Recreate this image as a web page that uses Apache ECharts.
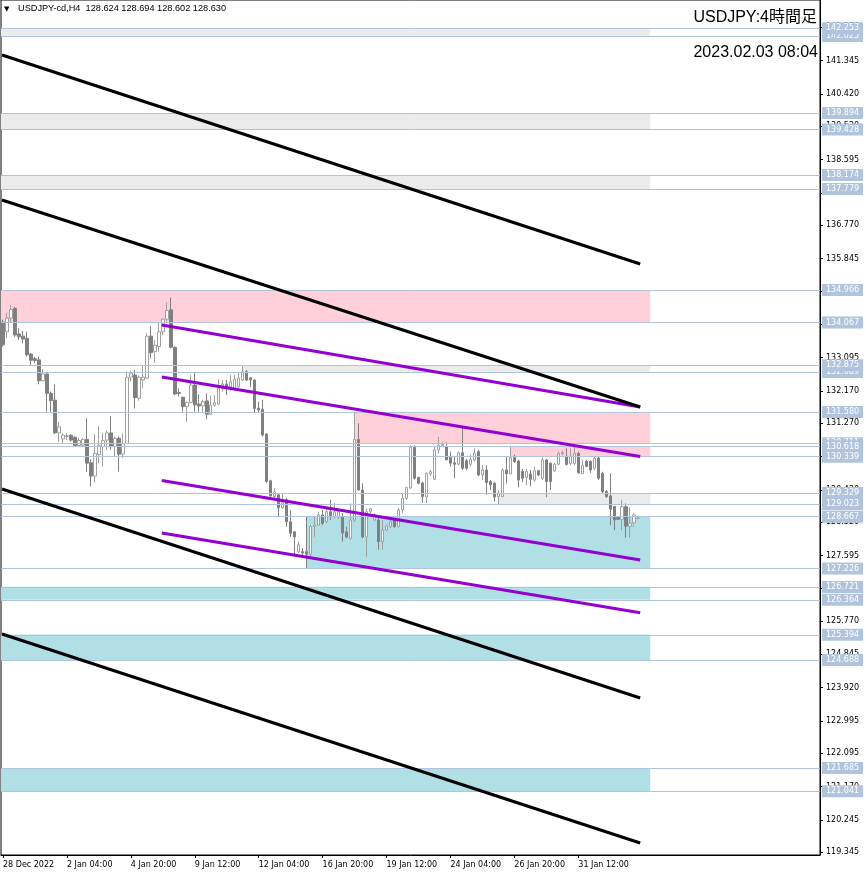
<!DOCTYPE html>
<html><head><meta charset="utf-8">
<script src="https://cdn.jsdelivr.net/npm/echarts@6/dist/echarts.min.js"></script>
<style>html,body{margin:0;padding:0;background:#fff}#c{width:866px;height:876px}</style>
</head><body><div id="c"></div>
<script>
const symbolTitle = 'USDJPY-cd,H4  128.624 128.694 128.602 128.630';
const chartTitle = 'USDJPY:4時間足';
const chartTime = '2023.02.03 08:04';

const slotCount = 205;
const xTickStep = 16;
const xTickLabels = ['28 Dec 2022','2 Jan 04:00','4 Jan 20:00','9 Jan 12:00','12 Jan 04:00','16 Jan 20:00','19 Jan 12:00','24 Jan 04:00','26 Jan 20:00','31 Jan 12:00'];
const categories = Array.from({length: slotCount}, (_, i) => String(i));

const yMin = 119.269, yMax = 143.032;
const yTickValues = [142.270,141.345,140.420,139.520,138.595,137.670,136.770,135.845,134.945,134.020,133.095,132.170,131.270,130.345,129.420,128.520,127.595,126.670,125.770,124.845,123.920,122.995,122.095,121.170,120.245,119.345];

// horizontal levels (drawn in this order; later ones on top)
const levels = [142.025,142.253,139.894,139.428,138.174,137.779,134.966,134.067,132.689,132.875,131.580,130.711,130.618,130.339,129.329,129.023,128.667,127.226,126.721,126.364,125.394,124.688,121.685,121.041];

// zones: top, bottom, start bar (null = left edge), kind
const zoneTop    = [142.253,139.894,138.174,134.966,132.875,131.580,130.618,129.329,128.667,126.721,125.394,121.685];
const zoneBottom = [142.025,139.428,137.779,134.067,132.689,130.711,130.339,129.023,127.226,126.364,124.688,121.041];
const zoneStart  = [null,null,null,null,60,88,127,124,76,null,null,null];
const zoneKind   = ['gray','gray','gray','pink','gray','pink','pink','gray','blue','blue','blue','blue'];
const zoneEnd = 162;

// candles: [open, close, low, high]
const candles = [
[134.08,133.45,133.40,134.15],[133.81,134.19,133.63,134.33],[134.19,134.43,134.09,134.55],[134.46,133.72,133.67,134.50],[133.75,133.67,133.58,133.91],
[133.69,133.61,133.49,133.84],[133.63,133.17,133.12,133.81],[133.19,133.02,132.89,133.22],[133.06,133.01,132.95,133.12],[133.03,132.45,132.35,133.12],
[132.45,132.64,132.43,132.77],[132.64,132.10,131.59,132.66],[132.10,131.90,131.59,132.15],[131.91,131.00,130.98,132.35],[131.00,131.17,130.75,131.30],
[130.83,130.94,130.71,130.99],[130.90,130.92,130.80,130.99],[130.93,130.80,130.76,130.97],[130.88,130.65,130.64,130.90],[130.65,130.79,130.62,130.85],
[130.66,130.82,130.61,130.86],[130.82,130.16,129.91,131.41],[130.17,129.80,129.51,130.26],[129.80,130.43,129.62,130.97],[130.40,130.66,130.16,131.19],
[130.62,130.79,130.06,131.00],[130.80,131.00,130.53,131.06],[131.00,130.62,130.53,131.47],[130.62,130.85,130.34,130.90],[130.85,130.41,129.92,130.90],
[130.41,130.71,130.30,130.99],[130.71,132.55,130.70,132.70],[132.55,132.66,132.43,132.73],[132.61,131.98,131.68,132.75],[131.96,132.55,131.90,132.60],
[132.47,132.55,132.24,132.89],[132.52,133.69,132.50,133.77],[133.69,133.23,133.07,133.97],[133.26,133.44,132.95,133.58],[133.40,133.81,133.26,134.07],
[133.81,134.16,133.72,134.19],[134.16,134.40,134.09,134.62],[134.42,133.38,133.35,134.77],[133.38,132.08,132.05,133.40],[132.12,132.10,132.01,132.24],
[131.99,131.73,131.59,132.01],[131.73,131.85,131.31,131.87],[131.85,132.33,131.83,132.61],[132.33,131.78,131.59,132.67],[131.80,131.75,131.59,132.08],
[131.75,131.87,131.56,131.92],[131.89,131.52,131.38,132.10],[131.52,131.77,131.50,132.03],[131.77,131.84,131.73,132.05],[131.80,132.24,131.78,132.49],
[132.22,132.36,132.14,132.47],[132.36,132.25,132.05,132.47],[132.28,132.42,132.17,132.61],[132.24,132.49,132.17,132.61],[132.28,132.52,132.25,132.67],
[132.47,132.70,132.45,132.875],[132.70,132.47,132.45,132.75],[132.53,132.47,132.28,132.55],[132.47,131.68,131.55,132.49],[131.69,131.64,131.55,131.87],
[131.66,130.94,130.90,131.92],[130.97,129.65,129.61,130.99],[129.67,129.25,129.23,129.70],[129.23,129.36,129.14,129.47],[129.28,128.92,128.67,129.33],
[128.92,129.06,128.90,129.33],[129.14,128.53,128.39,129.19],[128.53,128.21,128.11,128.86],[128.25,128.11,127.56,128.27],[127.70,127.89,127.66,127.98],
[127.70,127.66,127.56,127.80],[127.70,127.63,127.226,128.667],[127.63,128.40,127.56,128.44],[128.40,128.44,128.11,128.67],[128.44,128.72,128.42,128.81],
[128.72,128.49,128.44,128.86],[128.53,128.81,128.49,128.95],[128.81,128.67,128.58,129.14],[128.67,128.81,128.63,129.05],[128.67,128.81,128.60,128.90],
[128.67,128.22,127.98,128.77],[128.25,128.11,128.07,128.39],[128.07,128.58,128.03,129.04],[128.58,130.82,128.53,131.58],[130.82,129.41,129.41,131.27],
[129.41,128.11,128.07,129.60],[128.11,128.81,127.56,128.90],[128.81,128.89,128.77,128.91],[128.58,128.72,128.55,128.76],[128.58,127.98,127.75,128.64],
[127.98,128.30,127.75,128.58],[128.30,128.41,128.27,128.45],[128.40,128.53,128.36,128.67],[128.58,128.40,128.36,128.62],[128.40,128.86,128.38,128.92],
[128.86,129.18,128.77,129.32],[129.18,129.48,129.14,129.50],[129.47,130.60,129.45,130.66],[130.60,129.74,129.70,130.66],[129.76,129.60,129.57,129.78],
[129.61,129.23,129.06,129.64],[129.22,129.88,129.05,129.90],[129.86,129.92,129.80,129.97],[129.71,130.53,129.69,130.62],[130.53,130.66,130.43,130.89],
[130.64,130.68,130.62,130.74],[130.62,130.25,130.25,130.74],[130.32,130.16,130.06,130.48],[130.17,130.13,129.74,130.34],[130.13,130.45,130.10,130.48],
[130.45,130.02,129.97,131.17],[130.23,130.02,129.97,130.28],[130.13,130.26,130.06,130.39],[130.25,130.44,130.21,130.57],[130.48,129.83,129.80,130.53],
[129.83,129.97,129.69,130.10],[129.97,129.62,129.28,130.10],[129.65,129.56,129.41,129.69],[129.60,129.22,129.09,129.64],[129.23,129.33,129.023,129.41],
[129.23,129.97,129.23,130.02],[129.97,129.86,129.60,130.34],[129.86,130.32,129.86,130.618],[130.32,130.20,130.17,130.39],[130.22,129.69,129.49,130.25],
[129.93,129.74,129.63,130.00],[129.76,129.93,129.54,130.00],[129.86,129.71,129.52,129.97],[129.69,129.95,129.64,130.06],[129.95,129.83,129.80,129.97],
[129.74,130.25,129.69,130.32],[130.25,129.65,129.22,130.28],[130.16,129.65,129.41,130.18],[129.95,130.13,129.92,130.16],[130.13,130.43,130.10,130.48],
[130.42,130.45,130.37,130.51],[130.35,130.12,130.10,130.57],[130.15,130.34,130.10,130.57],[130.15,130.43,130.10,130.62],[130.43,129.89,129.87,130.48],
[129.87,130.10,129.85,130.25],[130.21,130.07,130.06,130.25],[130.21,129.97,129.89,130.23],[130.02,130.30,129.97,130.34],[130.30,129.74,129.69,130.34],
[129.88,129.37,129.32,129.92],[129.37,129.23,129.19,129.41],[129.25,128.88,128.44,129.88],[128.96,128.58,128.30,128.96],[128.65,128.60,128.58,128.66],
[128.60,128.95,128.30,129.14],[128.95,128.41,128.09,129.04],[128.41,128.49,128.09,128.93],[128.50,128.72,128.39,128.77],[128.624,128.630,128.602,128.694]
];

// trend lines: [barStart, valueStart, barEnd, valueEnd]
const blackLines = [
  [-0.25,141.503,159.5,135.695],
  [-0.25,137.474,159.5,131.720],
  [-0.25,129.441,159.5,123.632],
  [-0.25,125.411,159.5,119.603]
];
const purpleLines = [
  [39.75,134.000,159.5,131.720],
  [39.75,132.553,159.5,130.345],
  [39.75,129.678,159.5,127.468],
  [39.75,128.218,159.5,126.000]
];

const zoneColors = {gray:'#ebebeb', pink:'#ffd0da', blue:'#b0e0e6'};
const FONT = 'DejaVu Sans';

const chart = echarts.init(document.getElementById('c'), null, {renderer:'canvas'});

const series = [];
series.push({
  type:'line', xAxisIndex:1, yAxisIndex:0, data:[], silent:true, clip:false,
  markArea:{
    silent:true, z:1,
    data: zoneTop.map((t,k)=>[
      {xAxis: zoneStart[k]===null ? -0.5 : zoneStart[k], yAxis: t, itemStyle:{color: zoneColors[zoneKind[k]], opacity:1}},
      {xAxis: zoneEnd, yAxis: zoneBottom[k]}
    ])
  }
});
series.push({
  type:'line', xAxisIndex:1, yAxisIndex:0, data:[], silent:true, clip:false,
  markLine:{
    silent:true, symbol:['none','none'], animation:false,
    lineStyle:{color:'#b0c4de', width:1, type:'solid'},
    label:{show:true, position:'end', distance:2, color:'#ffffff', backgroundColor:'#b0c4de',
      padding:[2,4,1,4], fontSize:8, fontFamily:FONT, lineHeight:9},
    data: levels.map(v=>({yAxis:v, label:{formatter: v.toFixed(3)}}))
  }
});
series.push({
  type:'candlestick', xAxisIndex:0, yAxisIndex:0, data:candles, barWidth:3, silent:true, z:3,
  itemStyle:{color:'#ffffff', color0:'#808080', borderColor:'#a0a0a0', borderColor0:'#808080', borderWidth:1}
});
blackLines.forEach(l=>series.push({
  type:'line', xAxisIndex:1, yAxisIndex:0, data:[[l[0],l[1]],[l[2],l[3]]], showSymbol:false, silent:true, z:8,
  lineStyle:{color:'#000000', width:3}
}));
purpleLines.forEach(l=>series.push({
  type:'line', xAxisIndex:1, yAxisIndex:0, data:[[l[0],l[1]],[l[2],l[3]]], showSymbol:false, silent:true, z:7,
  lineStyle:{color:'#9400d3', width:3}
}));

chart.setOption({
  animation:false,
  backgroundColor:'#ffffff',
  grid:{left:1, right:46, top:0, bottom:21, show:true, borderColor:'#000', borderWidth:1, backgroundColor:'#fff'},
  xAxis:[{
    type:'category', data:categories, boundaryGap:true,
    axisLine:{show:true, onZero:false, lineStyle:{color:'#000', width:1}},
    axisTick:{show:true, alignWithLabel:true, length:3, lineStyle:{color:'#000'},
      interval:(idx)=> idx % xTickStep === 0 && idx/xTickStep < xTickLabels.length},
    axisLabel:{show:true, align:'left', margin:6, color:'#000', fontSize:8, fontFamily:FONT,
      interval:(idx)=> idx % xTickStep === 0 && idx/xTickStep < xTickLabels.length,
      formatter:(v, idx)=> xTickLabels[idx/xTickStep] || ''},
    splitLine:{show:false}
  },{
    type:'value', min:-0.5, max:slotCount-0.5, show:false,
    axisLine:{onZero:false}
  }],
  yAxis:[{
    type:'value', position:'right', min:yMin, max:yMax, scale:true,
    axisLine:{show:true, onZero:false, lineStyle:{color:'#000', width:1}},
    axisTick:{show:true, length:3, lineStyle:{color:'#000'}, customValues:yTickValues},
    axisLabel:{show:true, margin:6, color:'#000', fontSize:8, fontFamily:FONT, customValues:yTickValues,
      formatter:(v)=> Number(v).toFixed(3)},
    splitLine:{show:false}
  }],
  graphic:[
    {type:'text', left:4, top:6, style:{text:'▼', fontSize:7, fontFamily:FONT, fill:'#000'}, z:100},
    {type:'text', left:18, top:4, style:{text:symbolTitle, fontSize:9.2, fontFamily:'Liberation Sans', fill:'#000'}, z:100},
    {type:'text', right:49, top:10, style:{text:chartTitle, fontSize:16, fontFamily:'Liberation Sans, Noto Sans CJK JP', fill:'#000'}, z:100},
    {type:'text', right:48, top:45, style:{text:chartTime, fontSize:16, fontFamily:'Liberation Sans', fill:'#000'}, z:100}
  ],
  series
});
</script>
</body></html>
